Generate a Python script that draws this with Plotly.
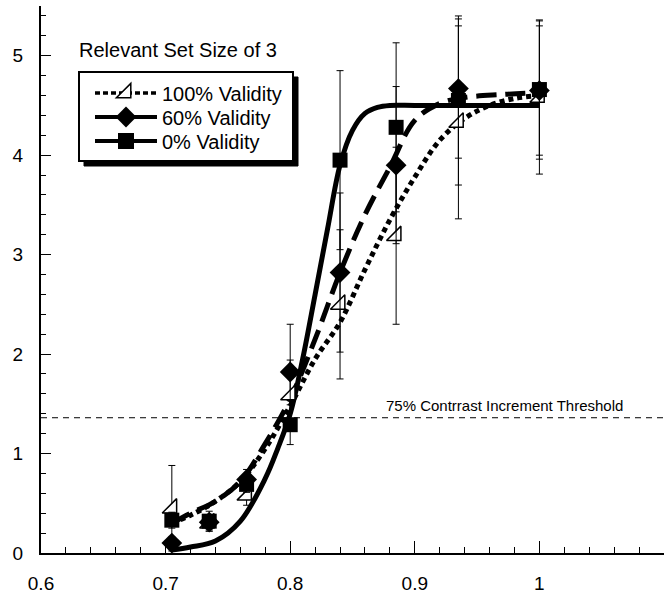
import plotly.graph_objects as go

# ---- data ----
x_pts = [0.705, 0.735, 0.765, 0.80, 0.84, 0.885, 0.935, 1.0]
v100 = [0.45, 0.30, 0.58, 1.59, 2.50, 3.19, 4.33, 4.58]
v60 = [0.10, 0.31, 0.74, 1.82, 2.82, 3.90, 4.67, 4.65]
v0 = [0.33, 0.32, 0.69, 1.29, 3.95, 4.28, 4.55, 4.66]
e100 = [0.43, 0.08, 0.10, 0.35, 0.75, 0.89, 0.97, 0.77]
e60 = [0.06, 0.07, 0.10, 0.48, 0.80, 0.79, 0.70, 0.65]
e0 = [0.08, 0.10, 0.08, 0.20, 0.90, 0.85, 0.85, 0.70]

# fitted curves
cx100 = [0.705, 0.72, 0.74, 0.76, 0.78, 0.80, 0.82, 0.84, 0.86, 0.88, 0.90, 0.92, 0.94, 0.96, 0.98, 1.0]
cy100 = [0.30, 0.38, 0.52, 0.72, 1.05, 1.48, 1.95, 2.32, 2.85, 3.35, 3.78, 4.15, 4.37, 4.50, 4.57, 4.60]
cx60 = [0.705, 0.72, 0.74, 0.76, 0.78, 0.80, 0.82, 0.84, 0.86, 0.88, 0.90, 0.92, 0.94, 0.97, 1.0]
cy60 = [0.30, 0.40, 0.52, 0.72, 1.10, 1.55, 2.15, 2.82, 3.40, 3.88, 4.35, 4.52, 4.58, 4.61, 4.63]
cx0 = [0.705, 0.72, 0.74, 0.76, 0.78, 0.79, 0.80, 0.81, 0.82, 0.83, 0.84, 0.85, 0.86, 0.87, 0.88, 0.90, 0.95, 1.0]
cy0 = [0.03, 0.06, 0.12, 0.32, 0.75, 1.05, 1.40, 1.95, 2.60, 3.26, 3.90, 4.25, 4.42, 4.48, 4.50, 4.50, 4.50, 4.50]

names = ["100% Validity", "60% Validity", "0% Validity"]
threshold = 1.36
x_ticks = [0.6, 0.7, 0.8, 0.9, 1.0]
x_ticklabels = ["0.6", "0.7", "0.8", "0.9", "1"]
y_ticks = [0, 1, 2, 3, 4, 5]

FONT = "Arial, Liberation Sans, sans-serif"
W, H = 664, 601
ML, MR, MT, MB = 41, 0, 6, 48
PW, PH = W - ML - MR, H - MT - MB

def px_x(p):
    return (p - ML) / PW

def px_y(p):
    return 1 - (p - MT) / PH

fig = go.Figure()

# threshold line
fig.add_trace(go.Scatter(x=[0.6, 1.1], y=[threshold, threshold], mode="lines",
                         line=dict(color="black", width=1, dash="6px,5px"),
                         showlegend=False, hoverinfo="skip"))

# curves
fig.add_trace(go.Scatter(x=cx100, y=cy100, mode="lines", line_shape="spline",
                         line=dict(color="black", width=5, dash="5px,4px"), showlegend=False))
fig.add_trace(go.Scatter(x=cx60, y=cy60, mode="lines", line_shape="spline",
                         line=dict(color="black", width=5, dash="20px,9px"), showlegend=False))
fig.add_trace(go.Scatter(x=cx0, y=cy0, mode="lines", line_shape="spline",
                         line=dict(color="black", width=5), showlegend=False))

def err(arr):
    return dict(type="data", array=arr, visible=True, color="black", thickness=1, width=3.5)

fig.add_trace(go.Scatter(x=x_pts, y=v100, mode="markers", error_y=err(e100), cliponaxis=False,
                         marker=dict(symbol="triangle-se", size=16, color="white",
                                     line=dict(color="black", width=1.5)), showlegend=False))
fig.add_trace(go.Scatter(x=x_pts, y=v60, mode="markers", error_y=err(e60), cliponaxis=False,
                         marker=dict(symbol="diamond", size=16, color="black"), showlegend=False))
fig.add_trace(go.Scatter(x=x_pts, y=v0, mode="markers", error_y=err(e0), cliponaxis=False,
                         marker=dict(symbol="square", size=15, color="black"), showlegend=False))

# legend-only entries, one small legend each so the row spacing can match
fig.add_trace(go.Scatter(x=[None], y=[None], mode="lines+markers", name=names[0], legend="legend",
                         line=dict(color="black", width=3.5, dash="5px,3px"),
                         marker=dict(symbol="triangle-se", size=17, color="white",
                                     line=dict(color="black", width=1.5))))
fig.add_trace(go.Scatter(x=[None], y=[None], mode="lines+markers", name=names[1], legend="legend2",
                         line=dict(color="black", width=4),
                         marker=dict(symbol="diamond", size=17, color="black")))
fig.add_trace(go.Scatter(x=[None], y=[None], mode="lines+markers", name=names[2], legend="legend3",
                         line=dict(color="black", width=4),
                         marker=dict(symbol="square", size=16, color="black")))

# legend box with shadow
bx0, bx1, by0, by1 = 79, 293, 72, 161
sh = 5
fig.add_shape(type="rect", xref="paper", yref="paper",
              x0=px_x(bx0 + sh), x1=px_x(bx1 + sh), y0=px_y(by1 + sh), y1=px_y(by0 + sh),
              fillcolor="black", line=dict(color="black", width=1), layer="below")
fig.add_shape(type="rect", xref="paper", yref="paper",
              x0=px_x(bx0), x1=px_x(bx1), y0=px_y(by1), y1=px_y(by0),
              fillcolor="white", line=dict(color="black", width=2), layer="below")

fig.add_annotation(text="Relevant Set Size of 3", xref="paper", yref="paper",
                   x=px_x(177.5), y=px_y(50), xanchor="center", yanchor="middle", showarrow=False,
                   font=dict(family=FONT, size=20, color="black"))
fig.add_annotation(text="75% Contrrast Increment Threshold", xref="paper", yref="paper",
                   x=px_x(504), y=px_y(405), xanchor="center", yanchor="middle", showarrow=False,
                   font=dict(family=FONT, size=15, color="black"))

def leg(cy):
    return dict(x=px_x(90), y=px_y(cy), xanchor="left", yanchor="middle",
                bgcolor="rgba(0,0,0,0)", borderwidth=0, itemwidth=62,
                font=dict(family=FONT, size=20, color="black"))

fig.update_layout(
    width=W, height=H,
    margin=dict(l=ML, r=MR, t=MT, b=MB),
    paper_bgcolor="white", plot_bgcolor="white",
    font=dict(family=FONT, color="black"),
    legend=leg(93), legend2=leg(117), legend3=leg(141),
    xaxis=dict(range=[0.6, 1.1], tickmode="array", tickvals=x_ticks, ticktext=x_ticklabels,
               ticks="inside", ticklen=12, tickwidth=1.2, tickcolor="black",
               minor=dict(dtick=0.02, ticks="inside", ticklen=6, tickcolor="black", tickwidth=1),
               showline=True, linecolor="black", linewidth=2, showgrid=False, zeroline=False,
               tickfont=dict(family=FONT, size=19, color="black"), ticklabelstandoff=12),
    yaxis=dict(range=[0, 5.5], tickmode="array", tickvals=y_ticks,
               ticks="inside", ticklen=10, tickwidth=1.2, tickcolor="black",
               minor=dict(dtick=0.2, ticks="inside", ticklen=5, tickcolor="black", tickwidth=1),
               showline=True, linecolor="black", linewidth=2, showgrid=False, zeroline=False,
               tickfont=dict(family=FONT, size=19, color="black"), ticklabelstandoff=12),
)

fig.write_html("out.html", config={"displayModeBar": False},
               post_script="document.body.style.margin='0px';")
